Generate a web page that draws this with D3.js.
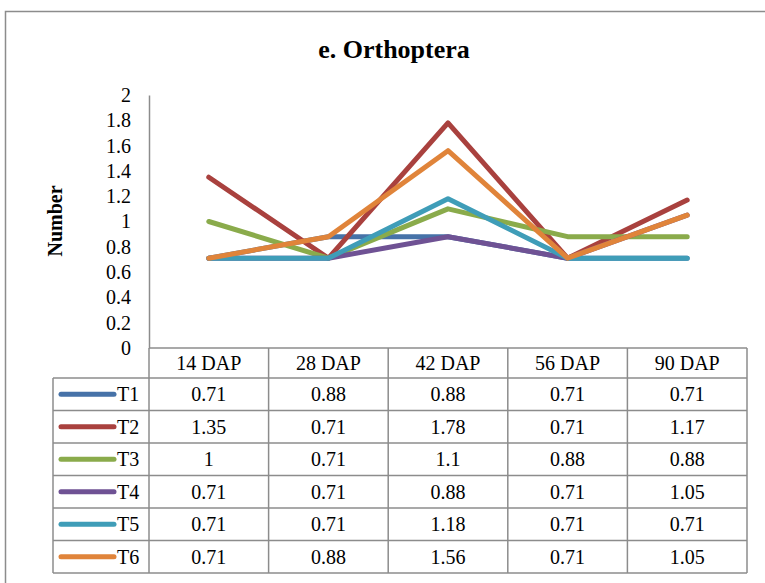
<!DOCTYPE html>
<html lang="en">
<head>
  <meta charset="UTF-8">
  <title>e. Orthoptera</title>
  <script src="https://d3js.org/d3.v7.min.js"></script>
  <style>
    body { margin: 0; background: #fff; }
    svg text { font-family: "Liberation Serif", "Times New Roman", serif; fill: #000; }
    .grid { stroke: #8c8c8c; stroke-width: 1.5; fill: none; }
  </style>
</head>
<body>
  <svg id="chart" width="765" height="583" font-family="Liberation Serif, serif"></svg>

  <script>
    // Data
    const categories = ["14 DAP", "28 DAP", "42 DAP", "56 DAP", "90 DAP"];
    const seriesNames = ["T1", "T2", "T3", "T4", "T5", "T6"];
    const T1 = [0.71, 0.88, 0.88, 0.71, 0.71];
    const T2 = [1.35, 0.71, 1.78, 0.71, 1.17];
    const T3 = [1, 0.71, 1.1, 0.88, 0.88];
    const T4 = [0.71, 0.71, 0.88, 0.71, 1.05];
    const T5 = [0.71, 0.71, 1.18, 0.71, 0.71];
    const T6 = [0.71, 0.88, 1.56, 0.71, 1.05];
    const yTicks = [0, 0.2, 0.4, 0.6, 0.8, 1, 1.2, 1.4, 1.6, 1.8, 2];
    const colors = ["#4672a8", "#a9413e", "#8aab4b", "#6f5294", "#3f9db8", "#e0843a"];

    const series = [T1, T2, T3, T4, T5, T6].map((v, i) => ({ name: seriesNames[i], values: v, color: colors[i] }));

    const svg = d3.select("#chart");

    // outer frame
    svg.append("rect")
      .attr("x", 5.5).attr("y", 11.5)
      .attr("width", 800).attr("height", 600)
      .attr("fill", "none").attr("stroke", "#8c8c8c").attr("stroke-width", 1.5);

    // title
    svg.append("text")
      .attr("x", 394).attr("y", 58)
      .attr("text-anchor", "middle")
      .style("font-size", "26px").style("font-weight", "bold")
      .text("e. Orthoptera");

    // scales
    const x = d3.scaleBand().domain(categories).range([149, 747]).padding(0);
    const y = d3.scaleLinear().domain([0, 2]).range([348, 95]);
    const cx = c => x(c) + x.bandwidth() / 2;

    // y axis
    const yAxis = svg.append("g")
      .attr("transform", "translate(149,0)")
      .call(d3.axisLeft(y).tickValues(yTicks).tickSize(0).tickPadding(18).tickFormat(d3.format("")));
    yAxis.attr("font-family", null);
    yAxis.select(".domain").attr("stroke", "#8c8c8c").attr("stroke-width", 1.5);
    yAxis.selectAll("text").attr("fill", "#000").style("font-size", "20px");

    // y axis title
    svg.append("text")
      .attr("transform", "translate(62,221) rotate(-90)")
      .attr("text-anchor", "middle")
      .style("font-size", "20px").style("font-weight", "bold")
      .text("Number");

    // lines
    const line = d3.line()
      .x((d, i) => cx(categories[i]))
      .y(d => y(d));

    svg.selectAll(".series")
      .data(series)
      .enter()
      .append("path")
      .attr("class", "series")
      .attr("d", d => line(d.values))
      .attr("fill", "none")
      .attr("stroke", d => d.color)
      .attr("stroke-width", 5)
      .attr("stroke-linejoin", "round")
      .attr("stroke-linecap", "round");

    // data table
    const headTop = 348, headH = 30, rowH = 32.5, tableLeft = 53;
    const rowY = i => headTop + headH + i * rowH;
    const tableBottom = rowY(series.length);
    const g = svg.append("g");

    // header top
    g.append("line").attr("class", "grid").attr("x1", 149).attr("x2", 747).attr("y1", headTop).attr("y2", headTop);
    // row lines
    for (let i = 0; i <= series.length; i++) {
      g.append("line").attr("class", "grid")
        .attr("x1", tableLeft).attr("x2", 747)
        .attr("y1", rowY(i)).attr("y2", rowY(i));
    }
    // column lines
    g.append("line").attr("class", "grid").attr("x1", tableLeft).attr("x2", tableLeft).attr("y1", rowY(0)).attr("y2", tableBottom);
    categories.forEach(c => {
      g.append("line").attr("class", "grid").attr("x1", x(c)).attr("x2", x(c)).attr("y1", headTop).attr("y2", tableBottom);
    });
    g.append("line").attr("class", "grid").attr("x1", 747).attr("x2", 747).attr("y1", headTop).attr("y2", tableBottom);

    // header labels
    g.selectAll(".head")
      .data(categories)
      .enter()
      .append("text")
      .attr("x", d => cx(d))
      .attr("y", headTop + headH / 2 + 7)
      .attr("text-anchor", "middle")
      .style("font-size", "20px")
      .text(d => d);

    // rows
    series.forEach((s, i) => {
      const yc = rowY(i) + rowH / 2;
      g.append("line")
        .attr("x1", 61).attr("x2", 114)
        .attr("y1", yc).attr("y2", yc)
        .attr("stroke", s.color).attr("stroke-width", 5).attr("stroke-linecap", "round");
      g.append("text")
        .attr("x", 117).attr("y", yc + 7)
        .style("font-size", "20px")
        .text(s.name);
      s.values.forEach((v, j) => {
        g.append("text")
          .attr("x", cx(categories[j]))
          .attr("y", yc + 7)
          .attr("text-anchor", "middle")
          .style("font-size", "20px")
          .text(v);
      });
    });
  </script>
</body>
</html>
